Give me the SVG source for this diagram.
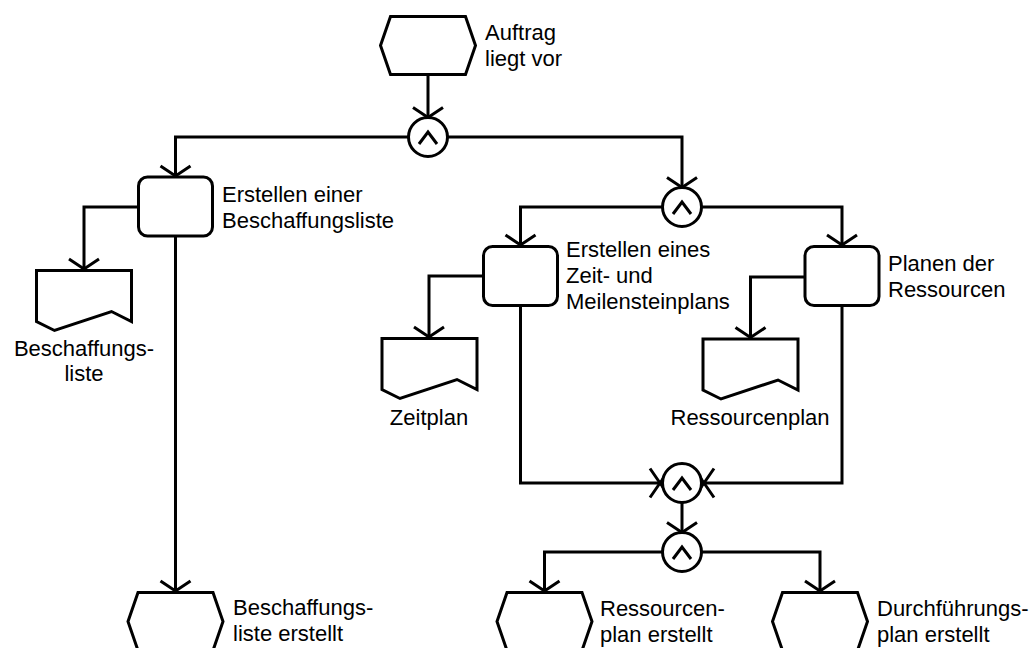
<svg xmlns="http://www.w3.org/2000/svg" width="1035" height="648" viewBox="0 0 1035 648">
  <style>
    .shape { fill: #fff; stroke: #000; stroke-width: 3; stroke-linejoin: miter; }
    .op { fill: #fff; stroke: #000; stroke-width: 3; }
    .caret { fill: none; stroke: #000; stroke-width: 3; stroke-linejoin: miter; }
    .conn { fill: none; stroke: #000; stroke-width: 3; }
    .lbl { font-family: "Liberation Sans", Arial, sans-serif; font-size: 22px; fill: #000; }
    .mid { text-anchor: middle; }
  </style>
  <defs>
    <!-- open V arrowhead, tip at the path end -->
    <marker id="vhead" markerUnits="userSpaceOnUse" orient="auto" refX="0" refY="0" markerWidth="30" markerHeight="40" overflow="visible">
      <path d="M -10,-15 L 0,0 L -10,15" fill="none" stroke="#000" stroke-width="3"/>
    </marker>
    <!-- crossed arrowhead used on the joining operator -->
    <marker id="xhead" markerUnits="userSpaceOnUse" orient="auto" refX="0" refY="0" markerWidth="30" markerHeight="40" overflow="visible">
      <path d="M -12.5,-14.5 L 7.5,14.5 M -12.5,14.5 L 7.5,-14.5" fill="none" stroke="#000" stroke-width="3"/>
    </marker>
    <!-- event: hexagon centred on 0,0 -->
    <polygon id="event" points="-47.5,0 -37.5,-29 37.5,-29 47.5,0 37.5,29 -37.5,29"/>
    <!-- AND operator -->
    <g id="and">
      <circle cx="0" cy="0" r="19.5" class="op"/>
      <path d="M -9,7 L 0,-5 L 9,7" class="caret"/>
    </g>
    <!-- document: left/top corner at 0,0 -->
    <path id="doc" d="M 0,0 H 95 V 51 L 75,41 L 18,60 L 0,51 Z"/>
  </defs>

  <g id="connectors">
    <path class="conn" d="M 428,76 V 117.5" marker-end="url(#vhead)"/>
    <path class="conn" d="M 408.5,137 H 175.5 V 176" marker-end="url(#vhead)"/>
    <path class="conn" d="M 447.5,137 H 682 V 187.5" marker-end="url(#vhead)"/>
    <path class="conn" d="M 662.5,207 H 520.5 V 245" marker-end="url(#vhead)"/>
    <path class="conn" d="M 701.5,207 H 842 V 245" marker-end="url(#vhead)"/>
    <path class="conn" d="M 138,207 H 84 V 269" marker-end="url(#vhead)"/>
    <path class="conn" d="M 175.5,236 V 591" marker-end="url(#vhead)"/>
    <path class="conn" d="M 483,276 H 429 V 337" marker-end="url(#vhead)"/>
    <path class="conn" d="M 805,277 H 750.5 V 337.5" marker-end="url(#vhead)"/>
    <path class="conn" d="M 520.5,305 V 483 H 662.5" marker-end="url(#xhead)"/>
    <path class="conn" d="M 842,305 V 483 H 701.5" marker-end="url(#xhead)"/>
    <path class="conn" d="M 682,502.5 V 532.5" marker-end="url(#vhead)"/>
    <path class="conn" d="M 662.5,552 H 544.5 V 591" marker-end="url(#vhead)"/>
    <path class="conn" d="M 701.5,552 H 820 V 591" marker-end="url(#vhead)"/>
  </g>

  <g id="ev-auftrag">
    <use href="#event" class="shape" x="428" y="45.5"/>
    <text class="lbl" x="485" y="40">Auftrag</text>
    <text class="lbl" x="485" y="66">liegt vor</text>
  </g>

  <g id="and-1"><use href="#and" x="428" y="137"/></g>
  <g id="and-2"><use href="#and" x="682" y="207"/></g>
  <g id="and-join"><use href="#and" x="682" y="483"/></g>
  <g id="and-split"><use href="#and" x="682" y="552"/></g>

  <g id="fn-beschaffung">
    <rect class="shape" x="138.5" y="177" width="74" height="59" rx="9"/>
    <text class="lbl" x="222" y="202">Erstellen einer</text>
    <text class="lbl" x="222" y="228">Beschaffungsliste</text>
  </g>

  <g id="fn-zeitplan">
    <rect class="shape" x="483.5" y="246.5" width="74" height="59" rx="9"/>
    <text class="lbl" x="566" y="257">Erstellen eines</text>
    <text class="lbl" x="566" y="283">Zeit- und</text>
    <text class="lbl" x="566" y="309">Meilensteinplans</text>
  </g>

  <g id="fn-ressourcen">
    <rect class="shape" x="805" y="246.5" width="74" height="59" rx="9"/>
    <text class="lbl" x="888" y="271">Planen der</text>
    <text class="lbl" x="888" y="297">Ressourcen</text>
  </g>

  <g id="doc-beschaffungsliste">
    <use href="#doc" class="shape" x="36.5" y="270.5"/>
    <text class="lbl mid" x="84" y="356">Beschaffungs-</text>
    <text class="lbl mid" x="84" y="381">liste</text>
  </g>

  <g id="doc-zeitplan">
    <use href="#doc" class="shape" x="382" y="338.5"/>
    <text class="lbl mid" x="429" y="425">Zeitplan</text>
  </g>

  <g id="doc-ressourcenplan">
    <use href="#doc" class="shape" x="703" y="339"/>
    <text class="lbl mid" x="750" y="425">Ressourcenplan</text>
  </g>

  <g id="ev-beschaffungsliste">
    <use href="#event" class="shape" x="175.5" y="621.5"/>
    <text class="lbl" x="233" y="615">Beschaffungs-</text>
    <text class="lbl" x="233" y="641">liste erstellt</text>
  </g>

  <g id="ev-ressourcenplan">
    <use href="#event" class="shape" x="544.5" y="621.5"/>
    <text class="lbl" x="600" y="616">Ressourcen-</text>
    <text class="lbl" x="600" y="642">plan erstellt</text>
  </g>

  <g id="ev-durchfuehrungsplan">
    <use href="#event" class="shape" x="820" y="621.5"/>
    <text class="lbl" x="877" y="616">Durchführungs-</text>
    <text class="lbl" x="877" y="642">plan erstellt</text>
  </g>
</svg>
